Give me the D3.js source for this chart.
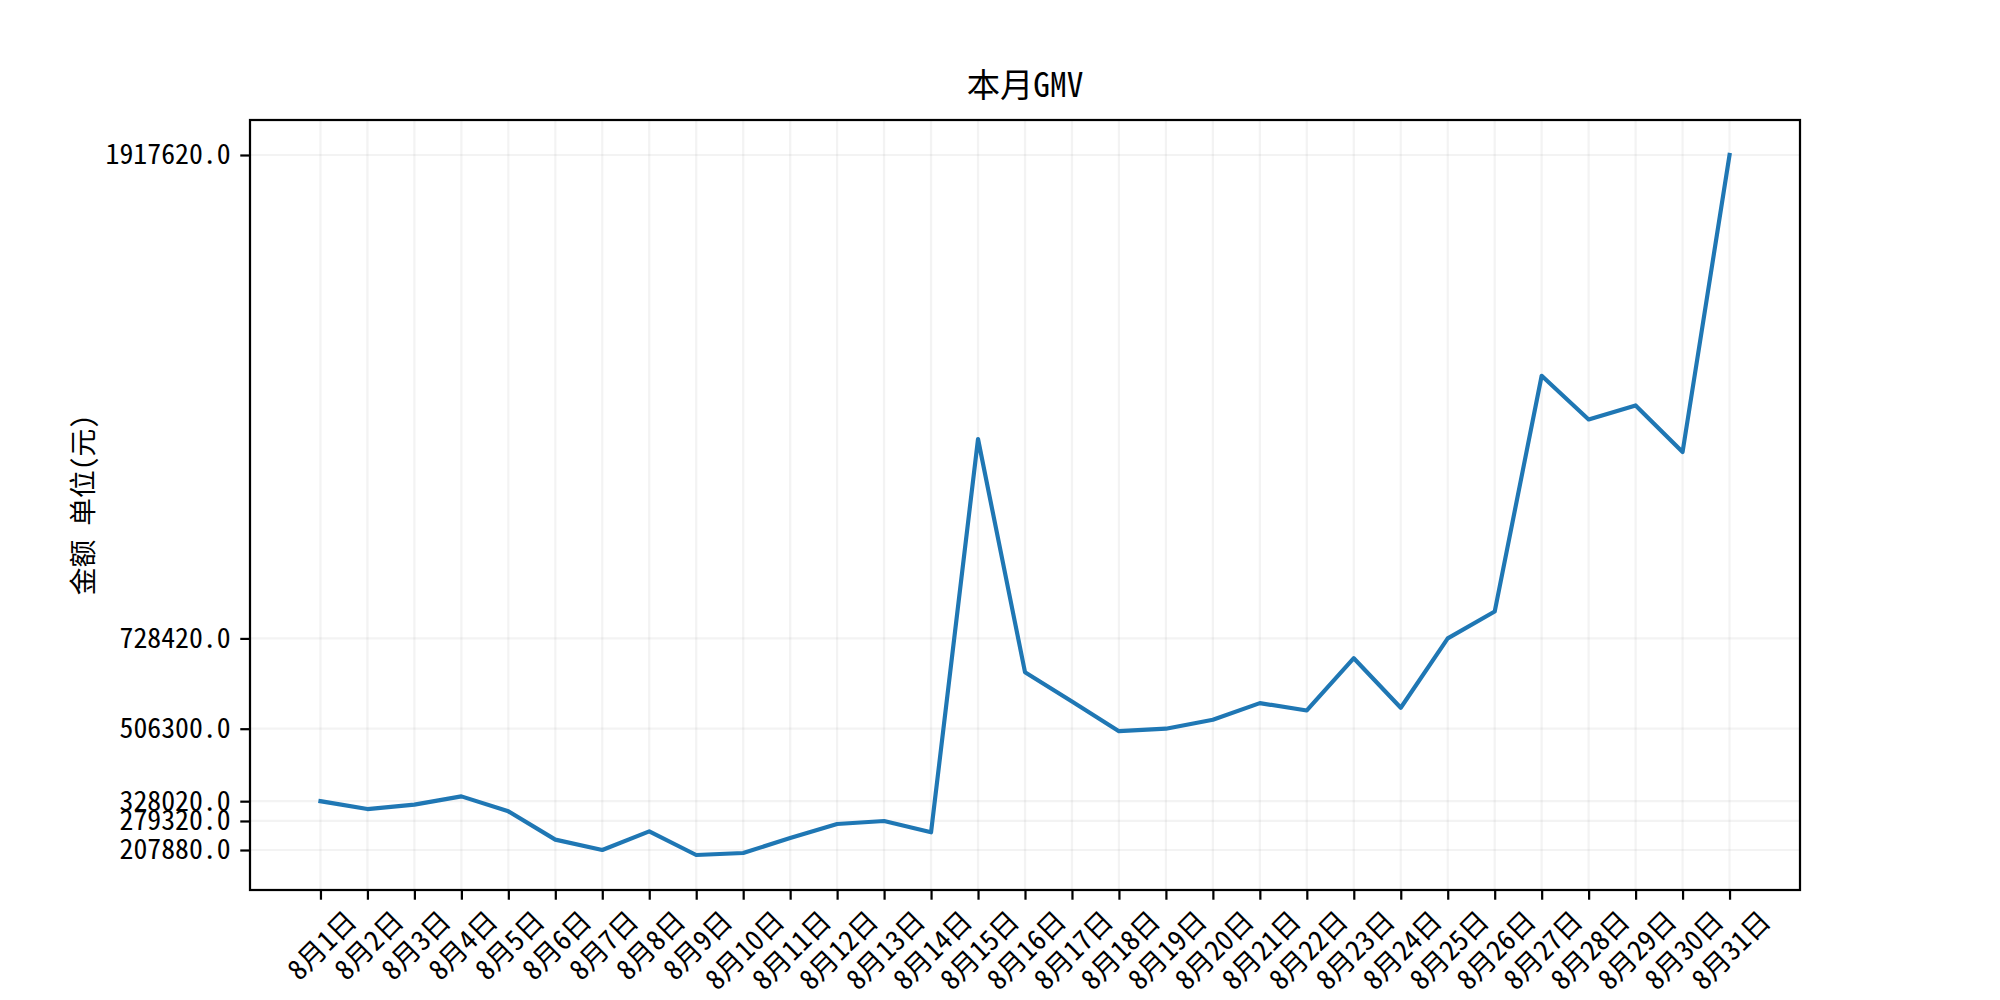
<!DOCTYPE html>
<html>
<head>
<meta charset="utf-8">
<script src="https://cdn.jsdelivr.net/npm/d3@7"></script>
<style>
  html, body { margin: 0; padding: 0; background: #fff; }
  svg { display: block; }
  text { font-family: "Noto Sans Mono CJK SC", "Noto Sans CJK SC", "DejaVu Sans", sans-serif; fill: #000; }
</style>
</head>
<body>
<svg id="chart" width="2000" height="1000"></svg>
<script>
const days = ["8月1日","8月2日","8月3日","8月4日","8月5日","8月6日","8月7日","8月8日","8月9日","8月10日",
  "8月11日","8月12日","8月13日","8月14日","8月15日","8月16日","8月17日","8月18日","8月19日","8月20日",
  "8月21日","8月22日","8月23日","8月24日","8月25日","8月26日","8月27日","8月28日","8月29日","8月30日","8月31日"];
const gmv = [328020, 308600, 319400, 339800, 303000, 233400, 207880, 253800, 195600, 200500,
  237400, 271800, 279320, 251400, 1218900, 645300, 573300, 500300, 506300, 528400,
  569200, 551200, 679700, 557900, 728420, 794500, 1374500, 1267100, 1301500, 1187000, 1917620];
const yTicks = [1917620, 728420, 506300, 328020, 279320, 207880];
const titleText = "本月GMV";
const yLabelText = "金额 单位(元)";

const svg = d3.select("#chart");
const L = 250, R = 1800, T = 120, B = 890;
const pt = 200 / 72;

const x = d3.scalePoint().domain(days).range([L, R]).padding(1.5);
const ymin = d3.min(gmv), ymax = d3.max(gmv), pad = (ymax - ymin) * 0.05;
const y = d3.scaleLinear().domain([ymin - pad, ymax + pad]).range([B, T]);

// grid
const grid = svg.append("g");
grid.selectAll("line.vx").data(days).enter().append("line")
  .attr("x1", d => x(d)).attr("x2", d => x(d)).attr("y1", T).attr("y2", B)
  .attr("stroke", "#b0b0b0").attr("stroke-opacity", 0.15).attr("stroke-width", 0.8 * pt);
grid.selectAll("line.hy").data(yTicks).enter().append("line")
  .attr("x1", L).attr("x2", R).attr("y1", d => y(d)).attr("y2", d => y(d))
  .attr("stroke", "#b0b0b0").attr("stroke-opacity", 0.15).attr("stroke-width", 0.8 * pt);

// line
const line = d3.line().x((d, i) => x(days[i])).y(d => y(d));
svg.append("path").datum(gmv).attr("d", line)
  .attr("fill", "none").attr("stroke", "#1f77b4").attr("stroke-width", 1.5 * pt)
  .attr("stroke-linejoin", "round").attr("stroke-linecap", "square");

// axes
const tickLen = 3.5 * pt, tickPad = 3.5 * pt;
const xAxis = d3.axisBottom(x).tickSize(tickLen).tickPadding(tickPad).tickFormat("");
const gx = svg.append("g").attr("transform", `translate(0,${B})`).call(xAxis);
gx.select(".domain").remove();
gx.selectAll(".tick line").attr("stroke", "#000").attr("stroke-width", 0.8 * pt);

const yAxis = d3.axisLeft(y).tickValues(yTicks).tickSize(tickLen).tickPadding(tickPad)
  .tickFormat(d => d.toFixed(1));
const gy = svg.append("g").attr("transform", `translate(${L},0)`).call(yAxis);
gy.select(".domain").remove();
gy.selectAll(".tick line").attr("stroke", "#000").attr("stroke-width", 0.8 * pt);
gy.selectAll(".tick text").attr("font-size", 10 * pt).attr("font-family", null).attr("fill", "#000");

// rotated x labels (ha=center, rotation 45)
const fs = 10 * pt;
const labelTop = B + tickLen + tickPad - 4;
const xl = svg.append("g");
days.forEach(d => {
  const t = xl.append("text").text(d).attr("font-size", fs)
    .attr("text-anchor", "middle").attr("dominant-baseline", "central");
  const w = t.node().getComputedTextLength();
  const h = fs * 0.9;
  const bh = (w + h) * Math.SQRT1_2;
  t.attr("transform", `translate(${x(d)},${labelTop + bh / 2}) rotate(-45)`);
});

// frame
svg.append("rect").attr("x", L).attr("y", T).attr("width", R - L).attr("height", B - T)
  .attr("fill", "none").attr("stroke", "#000").attr("stroke-width", 0.8 * pt);

// title
svg.append("text").attr("x", (L + R) / 2).attr("y", T - 6 * pt - 6)
  .attr("text-anchor", "middle").attr("font-size", 12 * pt).text(titleText);

// y label
svg.append("text").attr("transform", `translate(81,${(T + B) / 2}) rotate(-90)`)
  .attr("text-anchor", "middle").attr("dominant-baseline", "central")
  .attr("font-size", 10 * pt).text(yLabelText);
</script>
</body>
</html>
